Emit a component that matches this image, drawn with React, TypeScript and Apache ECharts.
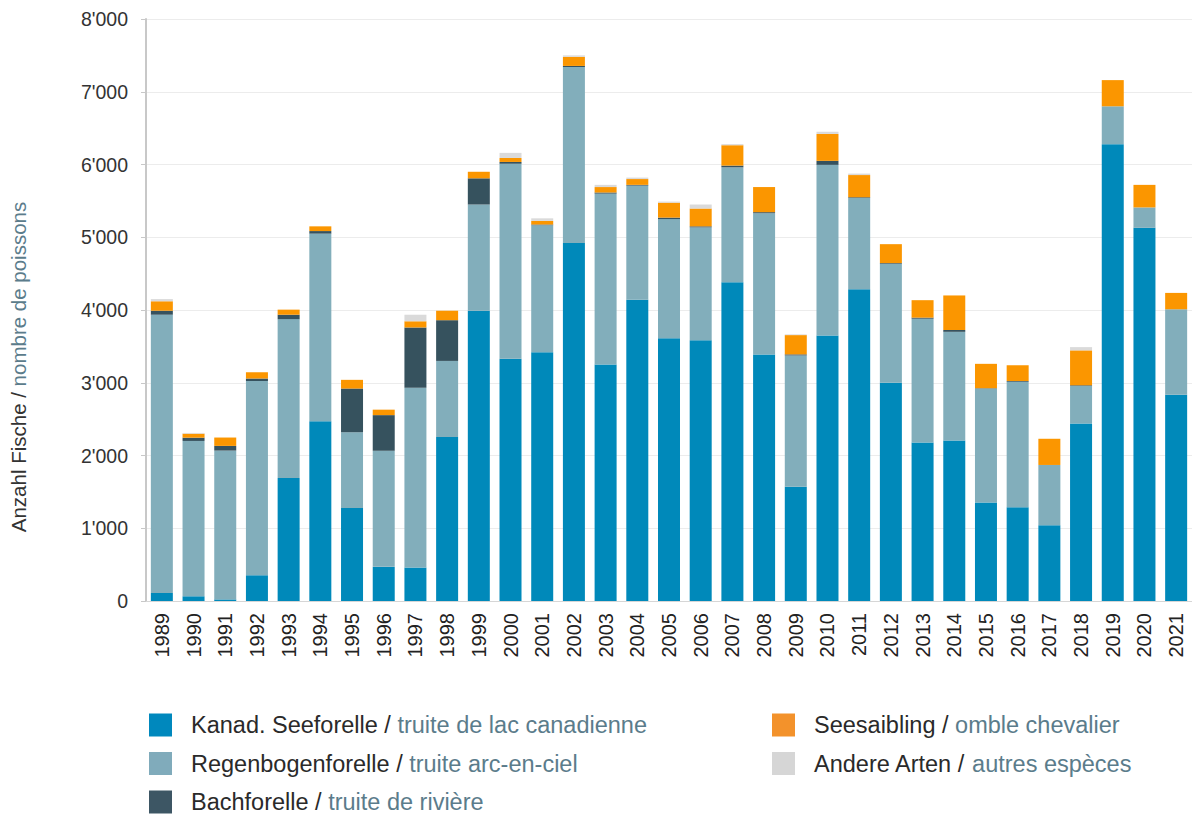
import React, { useEffect, useRef } from "react";
import * as echarts from "echarts";

const years = ["1989","1990","1991","1992","1993","1994","1995","1996","1997","1998","1999","2000","2001","2002","2003","2004","2005","2006","2007","2008","2009","2010","2011","2012","2013","2014","2015","2016","2017","2018","2019","2020","2021"];
const seeforelle = [110,65,22,355,1690,2470,1280,470,460,2255,3990,3330,3420,4920,3250,4140,3610,3585,4380,3390,1570,3650,4285,3000,2180,2205,1355,1290,1040,2440,6280,5130,2835];
const regenbogen = [3825,2135,2045,2670,2185,2580,1040,1595,2470,1045,1460,2680,1745,2420,2350,1570,1640,1550,1580,1940,1805,2345,1255,1635,1700,1495,1565,1725,830,515,520,280,1175];
const bachforelle = [55,45,65,35,60,35,600,490,830,560,360,25,10,15,15,10,20,15,25,15,15,55,10,10,15,25,5,10,0,10,0,0,0];
const seesaibling = [130,55,115,85,70,65,120,75,85,130,90,55,50,125,75,80,205,245,280,345,265,370,305,260,240,475,335,215,360,480,360,310,225];
const andere = [30,10,0,0,0,0,0,0,90,0,0,70,35,20,30,20,15,55,15,0,10,30,20,0,0,0,0,0,0,45,0,0,0];
const yTicks = [0, 1000, 2000, 3000, 4000, 5000, 6000, 7000, 8000];

const seriesDefs = [
  { de: "Kanad. Seeforelle", fr: "truite de lac canadienne", data: seeforelle, color: "#0089ba", legendColor: "#0088bd" },
  { de: "Regenbogenforelle", fr: "truite arc-en-ciel", data: regenbogen, color: "#82aebb", legendColor: "#80abbb" },
  { de: "Bachforelle", fr: "truite de rivière", data: bachforelle, color: "#36525e", legendColor: "#3d5664" },
  { de: "Seesaibling", fr: "omble chevalier", data: seesaibling, color: "#fb9600", legendColor: "#f3922b" },
  { de: "Andere Arten", fr: "autres espèces", data: andere, color: "#dadada", legendColor: "#d6d6d6" },
];

const FONT = "'Liberation Sans', Arial, sans-serif";
const FR_COLOR = "#5b7c8b";

export default function App() {
  const ref = useRef<HTMLDivElement>(null);
  useEffect(() => {
    if (!ref.current) return;
    const chart = echarts.init(ref.current, null, { renderer: "svg" });
    const fmt = (v: number) => {
      const s = String(v);
      return s.length > 3 ? s.slice(0, s.length - 3) + "'" + s.slice(s.length - 3) : s;
    };
    const legendCommon = {
      orient: "vertical" as const,
      itemWidth: 23,
      itemHeight: 23,
      itemGap: 14.5,
      padding: 0,
      height: 110,
      top: 713,
      icon: "rect",
      selectedMode: false,
      formatter: (name: string) => {
        const d = seriesDefs.find((s) => s.de === name)!;
        return "{a|" + d.de + " / }{b|" + d.fr + "}";
      },
      textStyle: {
        padding: [0, 0, 0, 14],
        rich: {
          a: { fontFamily: FONT, fontSize: 23.5, color: "#2a2a2a" },
          b: { fontFamily: FONT, fontSize: 23.5, color: FR_COLOR },
        },
      },
    };
    const legendData = (arr: typeof seriesDefs) =>
      arr.map((s) => ({ name: s.de, itemStyle: { color: s.legendColor } }));
    chart.setOption({
      animation: false,
      textStyle: { fontFamily: FONT },
      grid: { left: 146, right: -3, top: 19, bottom: 213, containLabel: false },
      legend: [
        { ...legendCommon, left: 149, data: legendData(seriesDefs.slice(0, 3)) },
        { ...legendCommon, left: 772, data: legendData(seriesDefs.slice(3)) },
      ],
      graphic: [
        {
          type: "text",
          x: 18,
          y: 367,
          rotation: Math.PI / 2,
          style: {
            text: "{a|Anzahl Fische / }{b|nombre de poissons}",
            align: "center",
            verticalAlign: "middle",
            rich: {
              a: { fontFamily: FONT, fontSize: 20.5, fill: "#333" },
              b: { fontFamily: FONT, fontSize: 20.5, fill: FR_COLOR },
            },
          },
        },
      ],
      xAxis: {
        type: "category",
        data: years,
        axisLine: { show: true, lineStyle: { color: "#d6d6d6", width: 1 } },
        axisTick: { show: false },
        axisLabel: { rotate: 90, fontSize: 20, color: "#222", margin: 12, fontFamily: FONT },
      },
      yAxis: {
        type: "value",
        min: 0,
        max: 8000,
        interval: 1000,
        axisLine: { show: true, lineStyle: { color: "#c8c8c8", width: 2 } },
        axisTick: { show: true, length: 5, lineStyle: { color: "#c8c8c8" } },
        splitLine: { show: true, lineStyle: { color: "#ececec", width: 1 } },
        axisLabel: {
          fontSize: 19.5,
          color: "#333",
          margin: 18,
          fontFamily: FONT,
          formatter: (v: number) => (yTicks.includes(v) ? fmt(v) : ""),
        },
      },
      series: seriesDefs.map((s) => ({
        name: s.de,
        type: "bar",
        stack: "total",
        barWidth: 22,
        data: s.data,
        itemStyle: { color: s.color },
      })),
    });
    return () => chart.dispose();
  }, []);
  return (
    <div
      ref={ref}
      style={{ position: "fixed", left: 0, top: 0, width: 1192, height: 814, background: "#fff" }}
    />
  );
}
